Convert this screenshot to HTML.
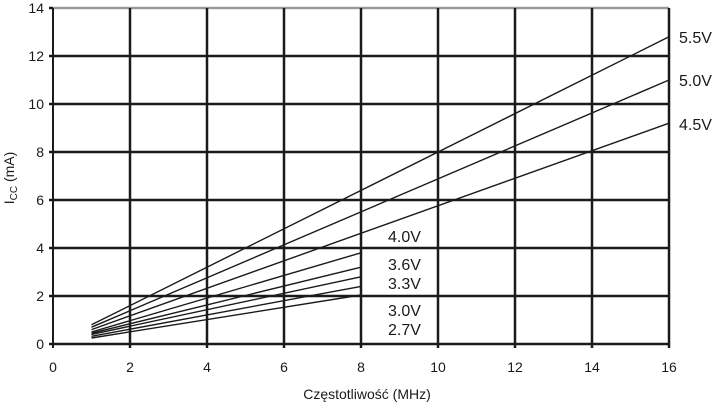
<!DOCTYPE html>
<html><head><style>body{margin:0;background:#fff}</style></head><body>
<svg width="720" height="404" xmlns="http://www.w3.org/2000/svg" font-family="Liberation Sans, sans-serif">
<g stroke="#1a1a1a" stroke-width="2.5">
<line x1="53" y1="8" x2="669" y2="8" stroke="#999"/>
<line x1="49" y1="56" x2="669" y2="56"/>
<line x1="49" y1="104" x2="669" y2="104"/>
<line x1="49" y1="152" x2="669" y2="152"/>
<line x1="49" y1="200" x2="669" y2="200"/>
<line x1="49" y1="248" x2="669" y2="248"/>
<line x1="49" y1="296" x2="669" y2="296"/>
<line x1="49" y1="344" x2="669" y2="344"/>
<line x1="49" y1="8" x2="53" y2="8"/>
<line x1="53" y1="8" x2="53" y2="348" stroke-width="2"/>
<line x1="130" y1="8" x2="130" y2="348"/>
<line x1="207" y1="8" x2="207" y2="348"/>
<line x1="284" y1="8" x2="284" y2="348"/>
<line x1="361" y1="8" x2="361" y2="348"/>
<line x1="438" y1="8" x2="438" y2="348"/>
<line x1="515" y1="8" x2="515" y2="348"/>
<line x1="592" y1="8" x2="592" y2="348"/>
<line x1="669" y1="8" x2="669" y2="348"/>
</g>
<g stroke="#1a1a1a" stroke-width="1.4">
<line x1="91.5" y1="324.8" x2="669" y2="36.8"/>
<line x1="91.5" y1="327.2" x2="669" y2="80"/>
<line x1="91.5" y1="329.6" x2="669" y2="123.2"/>
<line x1="91.5" y1="332" x2="361" y2="252.8"/>
<line x1="91.5" y1="333.2" x2="361" y2="267.2"/>
<line x1="91.5" y1="334.4" x2="361" y2="276.8"/>
<line x1="91.5" y1="336.3" x2="361" y2="286.4"/>
<line x1="91.5" y1="338" x2="361" y2="295"/>
</g>
<g font-size="14" fill="#1a1a1a" text-anchor="end">
<text x="44" y="13">14</text><text x="44" y="61">12</text><text x="44" y="109">10</text>
<text x="44" y="157">8</text><text x="44" y="205">6</text><text x="44" y="253">4</text>
<text x="44" y="301">2</text><text x="44" y="349">0</text>
</g>
<g font-size="14" fill="#1a1a1a" text-anchor="middle">
<text x="53" y="372">0</text><text x="130" y="372">2</text><text x="207" y="372">4</text>
<text x="284" y="372">6</text><text x="361" y="372">8</text><text x="438" y="372">10</text>
<text x="515" y="372">12</text><text x="592" y="372">14</text><text x="669" y="372">16</text>
<text x="367" y="399">Częstotliwość (MHz)</text>
</g>
<text transform="translate(14,178) rotate(-90)" font-size="14" fill="#1a1a1a" text-anchor="middle">I<tspan font-size="10" dy="3">CC</tspan><tspan dy="-3"> (mA)</tspan></text>
<g font-size="16" fill="#1a1a1a">
<text x="679" y="43">5.5V</text><text x="679" y="86">5.0V</text><text x="679" y="130">4.5V</text>
<text x="388" y="242">4.0V</text><text x="388" y="270">3.6V</text><text x="388" y="289">3.3V</text>
<text x="388" y="316">3.0V</text><text x="388" y="335">2.7V</text>
</g>
</svg>
</body></html>
